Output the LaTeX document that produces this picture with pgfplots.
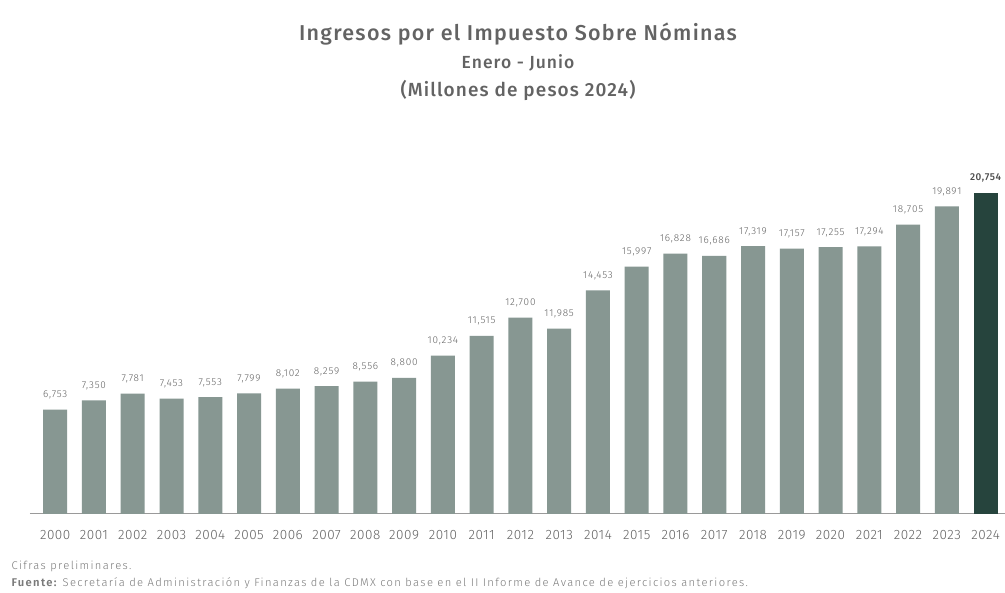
\documentclass[border=0pt]{standalone}
\usepackage{pgfplots}
\pgfplotsset{compat=1.18}
\usepackage{fontspec}
\setmainfont{Fira Sans}
\newfontfamily\titlefont{Fira Sans Medium}[LetterSpace=6]
\newfontfamily\lightfont{Fira Sans Light}[LetterSpace=4]
\newfontfamily\labfont{Fira Sans Light}[LetterSpace=8]
\newfontfamily\footfont{Fira Sans Light}[LetterSpace=12]
\newfontfamily\medfont{Fira Sans Medium}[LetterSpace=6]
\newfontfamily\semifont{Fira Sans SemiBold}[LetterSpace=12]
\definecolor{barg}{HTML}{879792}
\definecolor{bard}{HTML}{26443D}
\definecolor{txt}{HTML}{636363}
\definecolor{axl}{HTML}{9A9A9A}
\begin{document}
\begin{tikzpicture}[x=1pt,y=1pt]
\useasboundingbox (0,0) rectangle (1005,593);
\fill[white] (0,0) rectangle (1005,593);
\node[text=txt,font=\fontsize{21.5}{24}\titlefont] at (518,559) {Ingresos por el Impuesto Sobre Nóminas};
\node[text=txt,font=\fontsize{17.5}{20}\titlefont] at (518,530) {Enero - Junio};
\node[text=txt,font=\fontsize{19}{22}\titlefont] at (518,503) {(Millones de pesos 2024)};
\node[anchor=west,text=txt!85,font=\fontsize{11.2}{12}\footfont] at (8,27) {Cifras preliminares.};
\node[anchor=west,text=txt!85,font=\fontsize{11.2}{12}\footfont] at (8,10) {{\semifont Fuente:} Secretaría de Administración y Finanzas de la CDMX con base en el II Informe de Avance de ejercicios anteriores.};
\begin{axis}[
  at={(30pt,79pt)}, anchor=south west,
  scale only axis, width=975pt, height=340.3pt,
  xmin=-0.65, xmax=24.5, ymin=0, ymax=22000,
  axis x line*=bottom, axis y line=none,
  x axis line style={axl, line width=1pt, -},
  xtick={0,...,24},
  xticklabels={2000,2001,2002,2003,2004,2005,2006,2007,2008,2009,2010,2011,2012,2013,2014,2015,2016,2017,2018,2019,2020,2021,2022,2023,2024},
  xticklabel style={text=txt, font=\fontsize{13.5}{15}\lightfont, yshift=-13pt},
  major tick length=0pt,
  ybar, bar width=24pt, bar shift=0pt,
  nodes near coords,
  nodes near coords style={font=\fontsize{10}{12}\labfont, text=txt, yshift=7pt, /pgf/number format/1000 sep={,}, /pgf/number format/assume math mode=true},
  /pgf/number format/assume math mode=true,
]
\addplot[fill=barg, draw=none] coordinates {
(0,6753) (1,7350) (2,7781) (3,7453) (4,7553) (5,7799) (6,8102) (7,8259) (8,8556) (9,8800)
(10,10234) (11,11515) (12,12700) (13,11985) (14,14453) (15,15997) (16,16828) (17,16686)
(18,17319) (19,17157) (20,17255) (21,17294) (22,18705) (23,19891)};
\addplot[fill=bard, draw=none, nodes near coords style={font=\fontsize{10}{12}\medfont, text=black!70, yshift=0pt, /pgf/number format/1000 sep={,}, /pgf/number format/assume math mode=true}] coordinates {(24,20754)};
\end{axis}
\end{tikzpicture}
\end{document}
